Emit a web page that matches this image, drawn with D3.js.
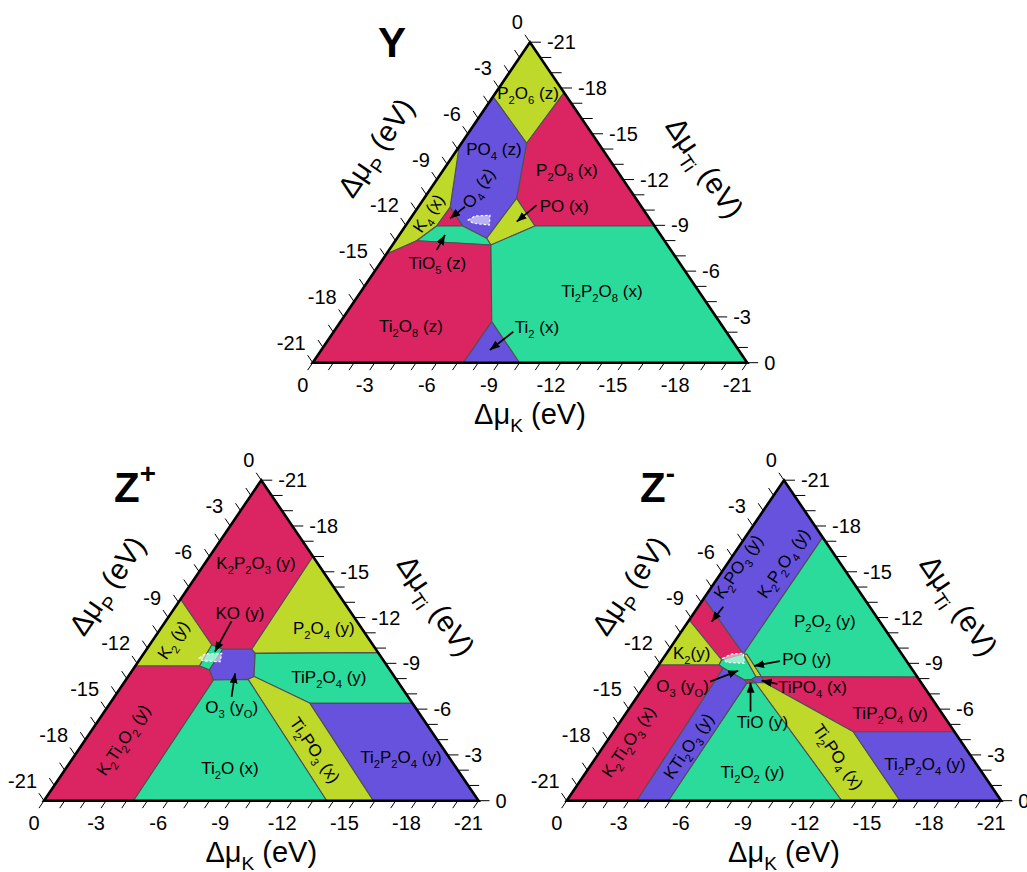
<!DOCTYPE html>
<html>
<head>
<meta charset="utf-8">
<script src="https://cdn.jsdelivr.net/npm/d3@7"></script>
<style>
  body { margin: 0; background: #fff; }
  text { font-family: "Liberation Sans", Arial, sans-serif; fill: #000; }
</style>
</head>
<body>
<script>
// every point is [dmuK, dmuTi] in eV; dmuP = -21 - dmuK - dmuTi
var tickValues = d3.range(0, -22, -1);
var labelValues = d3.range(0, -22, -3);

var phaseColors = { r: "#da2562", l: "#bfd92b", b: "#6652dd", t: "#2adb9c" };

// ---- Y ----
var yRegions = [
  { c: "l", pts: [[0, -21], [0, -17.43], [-3.15, -14.38], [-3.3, -17.7]] },
  { c: "r", pts: [[-3.3, -17.7], [-3.15, -14.38], [-4.47, -10.77], [-6.26, -8.96], [-12.04, -8.96]] },
  { c: "b", pts: [[0, -17.43], [0, -14.15], [-1.55, -10.18], [-2.77, -8.96], [-4.33, -8.15], [-4.47, -10.77], [-3.15, -14.38]] },
  { c: "l", pts: [[0, -14.15], [0, -7.1], [-1.03, -7.99], [-1.51, -8.96], [-1.55, -10.18]] },
  { c: "r", pts: [[-1.55, -10.18], [-1.51, -8.96], [-2.77, -8.96]] },
  { c: "l", pts: [[-4.47, -10.77], [-6.26, -8.96], [-4.76, -7.71], [-4.33, -8.15]] },
  { c: "t", pts: [[-1.03, -7.99], [-1.51, -8.96], [-2.77, -8.96], [-4.33, -8.15], [-4.76, -7.71]] },
  { c: "r", pts: [[0, -7.1], [-1.03, -7.99], [-4.76, -7.71], [-7.31, -2.69], [-7.28, 0], [0, 0]] },
  { c: "b", pts: [[-7.31, -2.69], [-7.28, 0], [-10, 0]] },
  { c: "t", pts: [[-4.76, -7.71], [-6.26, -8.96], [-12.04, -8.96], [-21, 0], [-10, 0], [-7.31, -2.69]] }
];
var yLabels = [
  { t: "P_2O_6 (z)", at: [-1.57, -17.67], rot: 0 },
  { t: "PO_4 (z)", at: [-1.76, -14.0], rot: 0 },
  { t: "P_2O_8 (x)", at: [-5.97, -12.63], rot: 0 },
  { t: "O_4 (z)", at: [-2.29, -11.43], rot: -1 },
  { t: "K_4 (x)", at: [-0.7, -9.79], rot: -1 },
  { t: "PO (x)", at: [-7.02, -10.27], rot: 0 },
  { t: "TiO_5 (z)", at: [-2.75, -6.55], rot: 0 },
  { t: "Ti_2O_8 (z)", at: [-3.55, -2.4], rot: 0 },
  { t: "Ti_2P_2O_8 (x)", at: [-11.63, -4.7], rot: 0 },
  { t: "Ti_2 (x)", at: [-9.68, -2.32], rot: 0 }
];
var yArrows = [
  [[-2.25, -10.22], [-1.91, -9.46]],
  [[-5.66, -10.33], [-5.24, -9.24]],
  [[-2.3, -7.38], [-2.21, -8.37]],
  [[-8.68, -2.03], [-8.15, -0.83]]
];
var ySpot = [[-2.84, -9.35], [-3.03, -9.61], [-3.74, -9.66], [-4.03, -9.02], [-3.19, -9.13]];

// ---- Z+ ----
var zpRegions = [
  { c: "r", pts: [[0, -21], [0, -13.2], [-3.01, -10.2], [-3.68, -9.92], [-5.08, -9.92], [-5.0, -16.0]] },
  { c: "l", pts: [[-5.0, -16.0], [-5.08, -9.92], [-5.38, -9.65], [-11.3, -9.7]] },
  { c: "l", pts: [[0, -13.2], [0, -8.83], [-3.1, -8.83], [-3.01, -10.2]] },
  { c: "t", pts: [[-3.01, -10.2], [-3.68, -9.92], [-3.71, -8.56], [-3.1, -8.83]] },
  { c: "b", pts: [[-3.68, -9.92], [-5.08, -9.92], [-5.38, -9.65], [-6.08, -8.14], [-5.89, -7.95], [-4.23, -7.91], [-3.71, -8.56]] },
  { c: "t", pts: [[-5.38, -9.65], [-11.3, -9.7], [-14.62, -6.38], [-9.67, -6.38], [-6.08, -8.14]] },
  { c: "l", pts: [[-6.08, -8.14], [-9.67, -6.38], [-15.92, 0], [-13.66, 0], [-5.89, -7.95]] },
  { c: "b", pts: [[-9.67, -6.38], [-14.62, -6.38], [-21, 0], [-15.92, 0]] },
  { c: "t", pts: [[-4.23, -7.91], [-5.89, -7.95], [-13.66, 0], [-4.32, 0]] },
  { c: "r", pts: [[0, -8.83], [-3.1, -8.83], [-3.71, -8.56], [-4.23, -7.91], [-4.32, 0], [0, 0]] }
];
var zpLabels = [
  { t: "K_2P_2O_3 (y)", at: [-2.45, -15.59], rot: 0 },
  { t: "KO (y)", at: [-3.31, -12.32], rot: 0 },
  { t: "K_2 (y)", at: [-0.98, -10.53], rot: -1 },
  { t: "P_2O_4 (y)", at: [-7.87, -11.3], rot: 0 },
  { t: "TiP_2O_4 (y)", at: [-9.71, -8.12], rot: 0 },
  { t: "O_3 (y_O)", at: [-5.99, -6.16], rot: 0 },
  { t: "K_2Ti_2O_2 (y)", at: [-1.84, -3.98], rot: -1 },
  { t: "Ti_2O (x)", at: [-7.93, -2.12], rot: 0 },
  { t: "Ti_2PO_3 (x)", at: [-11.44, -3.32], rot: 1 },
  { t: "Ti_2P_2O_4 (y)", at: [-15.81, -2.88], rot: 0 }
];
var zpArrows = [
  [[-3.18, -11.77], [-3.38, -9.76]],
  [[-5.66, -6.81], [-5.06, -8.35]]
];
var zpSpot = [[-2.84, -9.33], [-2.97, -9.61], [-3.76, -9.66], [-3.96, -9.11], [-3.12, -9.15]];

// ---- Z- ----
var zmRegions = [
  { c: "b", pts: [[0, -21], [0, -13.26], [-3.73, -9.61], [-3.75, -17.25]] },
  { c: "r", pts: [[0, -13.26], [-3.73, -9.61], [-2.88, -9.22], [0, -11.84]] },
  { c: "l", pts: [[0, -11.84], [-2.88, -9.22], [-2.91, -8.89], [0, -8.89]] },
  { c: "t", pts: [[-2.88, -9.22], [-3.73, -9.61], [-5.09, -8.12], [-4.95, -7.93], [-4.64, -7.91], [-3.22, -8.69], [-2.91, -8.89]] },
  { c: "l", pts: [[-3.73, -9.61], [-3.9, -9.61], [-5.36, -8.12], [-5.09, -8.12]] },
  { c: "t", pts: [[-3.75, -17.25], [-12.89, -8.11], [-5.36, -8.12], [-3.9, -9.61], [-3.73, -9.61]] },
  { c: "b", pts: [[-5.09, -8.12], [-5.36, -8.12], [-5.71, -7.73], [-5.25, -7.73], [-4.95, -7.93]] },
  { c: "r", pts: [[-4.64, -7.91], [-4.95, -7.93], [-5.25, -7.73], [-4.85, -7.69]] },
  { c: "r", pts: [[-5.36, -8.12], [-12.89, -8.11], [-16.48, -4.52], [-11.59, -4.52], [-5.71, -7.73]] },
  { c: "l", pts: [[-5.25, -7.73], [-5.71, -7.73], [-11.59, -4.52], [-16.11, 0], [-13.29, 0]] },
  { c: "b", pts: [[-11.59, -4.52], [-16.48, -4.52], [-21, 0], [-16.11, 0]] },
  { c: "t", pts: [[-4.85, -7.69], [-5.25, -7.73], [-13.29, 0], [-4.91, 0]] },
  { c: "b", pts: [[-3.22, -8.69], [-4.64, -7.91], [-4.85, -7.69], [-4.91, 0], [-3.38, 0]] },
  { c: "r", pts: [[0, -8.89], [-2.91, -8.89], [-3.22, -8.69], [-3.38, 0], [0, 0]] }
];
var zmLabels = [
  { t: "K_2PO_3 (y)", at: [-0.62, -15.33], rot: -1 },
  { t: "K_2P_2O_4 (y)", at: [-2.69, -15.56], rot: -1 },
  { t: "P_2O_2 (y)", at: [-6.58, -11.79], rot: 0 },
  { t: "K_2(y)", at: [-1.21, -9.66], rot: 0 },
  { t: "PO (y)", at: [-6.97, -9.26], rot: 0 },
  { t: "O_3 (y_O)", at: [-1.84, -7.52], rot: 0 },
  { t: "TiPO_4 (x)", at: [-8.14, -7.47], rot: 0 },
  { t: "TiO (y)", at: [-6.87, -5.18], rot: 0 },
  { t: "TiP_2O_4 (y)", at: [-12.77, -5.73], rot: 0 },
  { t: "K_2Ti_2O_3 (x)", at: [-1.05, -3.87], rot: -1 },
  { t: "KTi_2O_3 (y)", at: [-4.09, -3.58], rot: -1 },
  { t: "Ti_2O_2 (y)", at: [-8.03, -1.9], rot: 0 },
  { t: "Ti_2PO_4 (x)", at: [-11.69, -2.88], rot: 1 },
  { t: "Ti_2P_2O_4 (y)", at: [-16.12, -2.4], rot: 0 }
];
var zmArrows = [
  [[-1.21, -12.71], [-1.14, -11.73]],
  [[-5.73, -9.15], [-4.64, -8.83]],
  [[-3.03, -7.8], [-4.03, -8.52]],
  [[-6.36, -7.65], [-5.49, -7.86]],
  [[-5.97, -5.83], [-5.02, -7.73]]
];
var zmSpot = [[-2.87, -9.33], [-3.17, -9.61], [-3.71, -9.66], [-4.08, -9.0], [-3.2, -9.07]];

// ---- layout ----
var width = 1027, height = 872;
var side = 434.5, tall = 320.5;
var panels = [
  { title: "Y", regions: yRegions, labels: yLabels, arrows: yArrows, spot: ySpot, x: 312.7, y: 362.7, tx: 378, ty: 57 },
  { title: "Z^+", regions: zpRegions, labels: zpLabels, arrows: zpArrows, spot: zpSpot, x: 44, y: 800.7, tx: 114, ty: 502 },
  { title: "Z^-", regions: zmRegions, labels: zmLabels, arrows: zmArrows, spot: zmSpot, x: 566.7, y: 800.7, tx: 640, ty: 502 }
];

var kx = d3.scaleLinear().domain([0, -21]).range([0, side]);
var ty = d3.scaleLinear().domain([0, -21]).range([0, -tall]);
function proj(d) { return [kx(d[0]) + kx(d[1]) / 2, ty(d[1])]; }

var edge = Math.sqrt(side * side / 4 + tall * tall);
var dBase = [-side / 2 / edge, tall / edge];   // along left edge, outward below base
var dLeft = [-side / 2 / edge, -tall / edge];  // along right edge, outward left
var angle = Math.atan2(tall, side / 2) * 180 / Math.PI;

function rich(sel, str, fs) {
  var parts = str.split(/([_^](?:\{[^}]*\}|.))/).filter(function(s) { return s.length; });
  var shift = 0;
  parts.forEach(function(p) {
    var t = sel.append("tspan");
    if (p[0] === "_" || p[0] === "^") {
      var body = p[1] === "{" ? p.slice(2, -1) : p.slice(1);
      var s = p[0] === "_" ? fs * 0.3 : -fs * 0.45;
      t.attr("font-size", fs * 0.66).attr("dy", s - shift).text(body);
      shift = s;
    } else {
      t.attr("dy", -shift).text(p);
      shift = 0;
    }
  });
}

var svg = d3.select("body").append("svg")
    .attr("width", width)
    .attr("height", height);

svg.append("defs").append("marker")
    .attr("id", "arrow")
    .attr("markerUnits", "userSpaceOnUse")
    .attr("markerWidth", 11)
    .attr("markerHeight", 9)
    .attr("refX", 10)
    .attr("refY", 4)
    .attr("orient", "auto")
  .append("path")
    .attr("d", "M0,0L10,4L0,8Z")
    .attr("fill", "#000");

var line = d3.line().x(function(d) { return proj(d)[0]; }).y(function(d) { return proj(d)[1]; });

panels.forEach(function(p) {
  var g = svg.append("g").attr("transform", "translate(" + p.x + "," + p.y + ")");

  g.append("g").selectAll("path")
      .data(p.regions)
      .enter().append("path")
      .attr("d", function(d) { return line(d.pts) + "Z"; })
      .attr("fill", function(d) { return phaseColors[d.c]; })
      .attr("stroke", "#505050")
      .attr("stroke-width", 1.1)
      .attr("stroke-linejoin", "round");

  g.append("path")
      .attr("d", line(p.spot) + "Z")
      .attr("fill", "#fff")
      .attr("fill-opacity", 0.55)
      .attr("stroke", "#fff")
      .attr("stroke-width", 1.2)
      .attr("stroke-dasharray", "2.5,2");

  // outline
  g.append("path")
      .attr("d", line([[0, 0], [-21, 0], [0, -21]]) + "Z")
      .attr("fill", "none")
      .attr("stroke", "#000")
      .attr("stroke-width", 2.6)
      .attr("stroke-linejoin", "miter");

  // ticks on the three edges
  var axes = g.append("g").attr("stroke", "#000").attr("stroke-width", 1);
  tickValues.forEach(function(v) {
    var a = proj([v, 0]);
    axes.append("line").attr("x1", a[0]).attr("y1", a[1])
        .attr("x2", a[0] + dBase[0] * 9).attr("y2", a[1] + dBase[1] * 9);
    var b = proj([0, -21 - v]);
    axes.append("line").attr("x1", b[0]).attr("y1", b[1])
        .attr("x2", b[0] + dLeft[0] * 9).attr("y2", b[1] + dLeft[1] * 9);
    var c = proj([-21 - v, v]);
    axes.append("line").attr("x1", c[0]).attr("y1", c[1])
        .attr("x2", c[0] + 11).attr("y2", c[1]);
  });

  labelValues.forEach(function(v) {
    var a = proj([v, 0]);
    g.append("text").attr("x", a[0] - 10).attr("y", a[1] + 22).attr("dy", "0.35em")
        .attr("text-anchor", "middle").attr("font-size", 20).text(String(v));
    var b = proj([0, -21 - v]);
    g.append("text").attr("x", b[0] - 7).attr("y", b[1] - 20).attr("dy", "0.35em")
        .attr("text-anchor", "end").attr("font-size", 20).text(String(v));
    var c = proj([-21 - v, v]);
    g.append("text").attr("x", c[0] + 17).attr("y", c[1]).attr("dy", "0.35em")
        .attr("text-anchor", "start").attr("font-size", 20).text(String(v));
  });

  // axis titles
  var tk = g.append("text").attr("x", side / 2).attr("y", 61).attr("text-anchor", "middle").attr("font-size", 29);
  rich(tk, "\u0394\u03bc_K (eV)", 29);
  var tp = g.append("text").attr("transform", "translate(63,-215) rotate(" + (-angle) + ")")
      .attr("y", 10).attr("text-anchor", "middle").attr("font-size", 29);
  rich(tp, "\u0394\u03bc_P (eV)", 29);
  var tt = g.append("text").attr("transform", "translate(392,-195) rotate(" + angle + ")")
      .attr("y", 10).attr("text-anchor", "middle").attr("font-size", 29);
  rich(tt, "\u0394\u03bc_{Ti} (eV)", 29);

  // arrows
  g.append("g").selectAll("line")
      .data(p.arrows)
      .enter().append("line")
      .attr("x1", function(d) { return proj(d[0])[0]; })
      .attr("y1", function(d) { return proj(d[0])[1]; })
      .attr("x2", function(d) { return proj(d[1])[0]; })
      .attr("y2", function(d) { return proj(d[1])[1]; })
      .attr("stroke", "#000")
      .attr("stroke-width", 1.7)
      .attr("marker-end", "url(#arrow)");

  // phase labels
  p.labels.forEach(function(d) {
    var q = proj(d.at);
    var t = g.append("text")
        .attr("transform", "translate(" + q[0] + "," + q[1] + ") rotate(" + (d.rot * angle) + ")")
        .attr("y", 6)
        .attr("text-anchor", "middle")
        .attr("font-size", 17);
    rich(t, d.t, 17);
  });

  var title = svg.append("text").attr("x", p.tx).attr("y", p.ty)
      .attr("font-size", 42).attr("font-weight", "bold");
  rich(title, p.title, 42);
});
</script>
</body>
</html>
